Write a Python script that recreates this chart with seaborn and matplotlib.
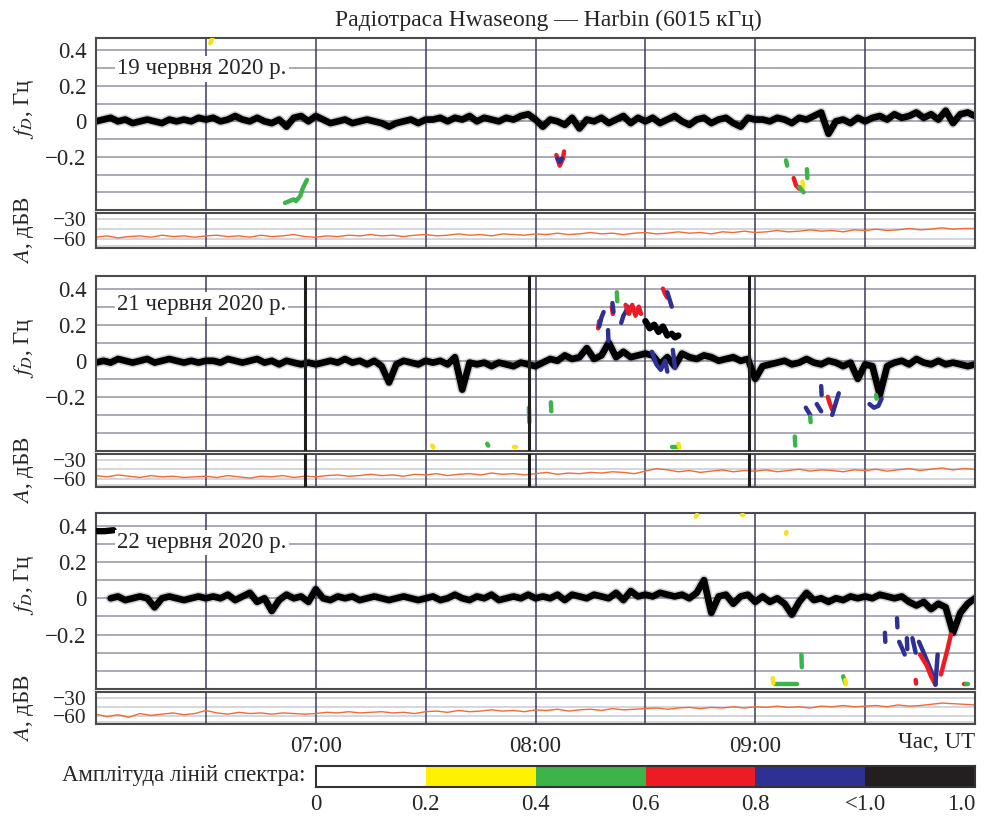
import numpy as np
import matplotlib
matplotlib.use("Agg")
import matplotlib.pyplot as plt
from matplotlib.colors import ListedColormap
import seaborn as sns

# ---------------- data ----------------
title_text = "Радіотраса Hwaseong — Harbin (6015 кГц)"
dates = ["19 червня 2020 р.", "21 червня 2020 р.", "22 червня 2020 р."]

# time axis (hours UT)
t_dop = 6 + np.arange(121) / 30.0   # 2-min step
t_amp = 6 + np.arange(81) / 20.0    # 3-min step

dop_19 = [0.00, 0.01, 0.02, 0.00, 0.01, -0.01, 0.00, 0.01, 0.00, -0.01, 0.01, 0.00, 0.01, 0.00, 0.02, 0.01,
          0.02, 0.00, 0.01, 0.03, 0.01, 0.00, 0.02, 0.00, -0.01, 0.01, -0.03, 0.02, 0.03, 0.00, 0.03,
          0.01, -0.01, 0.00, 0.01, -0.01, 0.00, 0.01, 0.00, -0.01, -0.03, -0.01, 0.00, 0.01, -0.01, 0.01,
          0.01, 0.02, 0.00, 0.02, 0.01, 0.03, 0.00, 0.02, 0.01, 0.00, 0.02, 0.01, 0.03, 0.04, 0.01,
          -0.03, 0.01, 0.00, -0.02, 0.02, -0.04, 0.01, 0.00, 0.02, -0.01, 0.01, 0.03, -0.01, 0.02, 0.00,
          0.02, -0.01, 0.01, 0.03, 0.00, -0.02, 0.01, 0.02, -0.01, 0.01, 0.02, -0.01, -0.03, 0.02, 0.01,
          0.01, 0.00, 0.02, 0.01, -0.01, 0.02, 0.01, 0.03, 0.05, -0.07, 0.00, 0.01, -0.01, 0.02, 0.00,
          0.02, 0.03, 0.01, 0.04, 0.02, 0.03, 0.05, 0.02, 0.04, 0.01, 0.06, -0.01, 0.04, 0.05, 0.03]

dop_21 = [-0.01, 0.00, -0.01, 0.01, 0.00, -0.01, 0.00, 0.01, -0.01, 0.00, 0.01, 0.00, -0.01, 0.00, -0.01, 0.00,
          0.00, -0.01, 0.01, 0.00, -0.01, 0.00, 0.01, -0.01, 0.00, -0.02, 0.00, -0.01, -0.02, -0.01, -0.02,
          -0.01, 0.00, -0.01, 0.01, -0.01, 0.00, -0.02, 0.00, -0.03, -0.12, -0.02, 0.00, -0.01, -0.02, 0.00,
          -0.01, 0.00, -0.02, 0.02, -0.16, -0.01, -0.02, -0.01, -0.03, -0.01, -0.02, -0.03, -0.01, -0.02, -0.03,
          -0.01, 0.01, 0.00, 0.03, 0.01, 0.02, 0.07, 0.01, 0.03, 0.10, 0.02, 0.05, 0.02, 0.03, 0.04,
          0.03, -0.02, 0.02, -0.03, 0.04, 0.02, 0.01, 0.03, 0.02, 0.00, 0.01, 0.02, 0.00, 0.01, -0.10,
          -0.03, -0.02, -0.01, 0.00, -0.02, -0.01, 0.01, -0.01, -0.02, 0.00, -0.01, -0.03, -0.01, -0.10, -0.02,
          -0.03, -0.19, -0.03, -0.01, 0.00, -0.02, 0.01, -0.01, -0.02, 0.00, -0.02, -0.01, -0.02, -0.03, -0.02]

dop_22 = [np.nan, np.nan, 0.00, 0.01, -0.01, 0.00, 0.01, 0.00, -0.05, 0.00, 0.01, 0.00, -0.01, 0.00, 0.01, 0.00,
          0.01, 0.00, 0.02, -0.01, 0.01, 0.03, -0.02, 0.00, -0.07, -0.01, 0.02, 0.00, 0.01, -0.02, 0.05,
          0.00, -0.01, 0.01, 0.00, 0.01, -0.01, 0.00, 0.01, 0.00, -0.01, 0.00, 0.01, 0.00, -0.01, 0.00,
          0.01, -0.01, 0.00, 0.02, 0.00, -0.01, 0.01, 0.00, 0.02, -0.01, 0.00, 0.01, 0.00, 0.02, 0.00,
          0.01, 0.00, 0.02, -0.01, 0.02, 0.01, 0.00, 0.02, 0.01, 0.00, 0.03, -0.01, 0.04, 0.01, 0.02,
          0.01, 0.03, 0.02, 0.01, 0.02, 0.00, 0.03, 0.10, -0.08, 0.01, 0.02, -0.03, 0.01, 0.02, -0.02,
          0.01, -0.02, 0.00, -0.03, -0.09, -0.02, 0.03, -0.01, 0.00, -0.02, 0.00, -0.01, 0.01, 0.00, 0.01,
          0.00, 0.02, 0.01, 0.00, 0.01, -0.02, -0.04, -0.02, -0.06, -0.03, -0.05, -0.19, -0.08, -0.03, 0.00]

amp_19 = [-57, -55, -58, -56, -55, -57, -54, -56, -55, -57,
          -55, -54, -56, -55, -57, -54, -56, -55, -53, -56,
          -57, -55, -56, -54, -55, -53, -55, -54, -56, -54,
          -53, -55, -54, -52, -54, -53, -55, -52, -53, -54,
          -52, -53, -51, -53, -52, -50, -52, -51, -53, -51,
          -50, -52, -51, -49, -51, -50, -52, -49, -50, -48,
          -50, -49, -47, -49, -48, -46, -48, -47, -49, -46,
          -47, -45, -47, -46, -44, -46, -45, -43, -45, -44, -44]

amp_21 = [-55, -57, -54, -56, -58, -55, -57, -56, -58, -57,
          -56, -58, -55, -57, -59, -56, -57, -55, -58, -56,
          -57, -55, -54, -56, -55, -53, -55, -54, -56, -53,
          -54, -52, -55, -53, -52, -54, -51, -53, -52, -54,
          -52, -50, -53, -51, -52, -50, -51, -49, -50, -52,
          -48, -44, -46, -49, -47, -50, -48, -46, -49, -47,
          -48, -46, -49, -47, -45, -48, -46, -47, -49, -46,
          -47, -45, -48, -46, -44, -47, -45, -43, -46, -44, -45]

amp_22 = [-57, -61, -58, -62, -56, -59, -57, -55, -58, -56,
          -51, -55, -57, -54, -56, -55, -57, -55, -56, -57,
          -56, -54, -55, -53, -55, -54, -53, -55, -54, -56,
          -53, -52, -54, -51, -53, -52, -50, -52, -51, -53,
          -50, -51, -49, -52, -50, -49, -51, -48, -50, -49,
          -48, -47, -49, -47, -46, -48, -46, -47, -45, -47,
          -45, -46, -44, -46, -45, -47, -44, -45, -43, -45,
          -44, -43, -45, -42, -44, -43, -41, -39, -40, -41, -42]

# weaker spectral components: (colour key, times, Doppler shifts)
frags_19 = [
    ("y", [6.52, 6.53], [0.44, 0.47]),
    ("g", [6.86, 6.88, 6.90, 6.91, 6.93, 6.94, 6.96], [-0.46, -0.45, -0.44, -0.45, -0.42, -0.38, -0.33]),
    ("r", [8.095, 8.11, 8.125, 8.13], [-0.19, -0.25, -0.21, -0.17]),
    ("b", [8.10, 8.11, 8.12], [-0.21, -0.23, -0.21]),
    ("g", [9.14, 9.145], [-0.22, -0.25]),
    ("r", [9.175, 9.185, 9.20], [-0.32, -0.36, -0.38]),
    ("y", [9.215, 9.218], [-0.34, -0.37]),
    ("g", [9.20, 9.22], [-0.37, -0.40]),
    ("g", [9.235, 9.237], [-0.27, -0.32]),
]

frags_21 = [
    ("r", [8.285, 8.29], [0.18, 0.22]),
    ("b", [8.29, 8.30, 8.31], [0.19, 0.24, 0.27]),
    ("b", [8.33, 8.332], [0.17, 0.11]),
    ("r", [8.347, 8.352], [0.30, 0.26]),
    ("b", [8.35, 8.355], [0.32, 0.27]),
    ("g", [8.37, 8.372], [0.38, 0.33]),
    ("b", [8.39, 8.40, 8.41, 8.42], [0.21, 0.25, 0.27, 0.30]),
    ("r", [8.41, 8.425, 8.44, 8.455, 8.47, 8.48], [0.31, 0.26, 0.31, 0.25, 0.30, 0.26]),
    ("r", [8.58, 8.59, 8.60], [0.40, 0.37, 0.35]),
    ("b", [8.60, 8.61, 8.62], [0.38, 0.34, 0.30]),
    ("k", [8.50, 8.52, 8.54, 8.56, 8.58, 8.60], [0.22, 0.18, 0.20, 0.16, 0.19, 0.14]),
    ("k", [8.62, 8.635, 8.65], [0.15, 0.13, 0.14]),
    ("b", [8.53, 8.55, 8.57, 8.59, 8.60], [0.05, -0.02, -0.05, 0.00, -0.06]),
    ("b", [8.625, 8.63, 8.635], [0.06, 0.01, -0.04]),
    ("g", [8.07, 8.072], [-0.23, -0.28]),
    ("g", [7.97, 7.972], [-0.26, -0.34]),
    ("g", [8.62, 8.65], [-0.48, -0.48]),
    ("y", [8.65, 8.655], [-0.46, -0.48]),
    ("g", [9.18, 9.182], [-0.42, -0.47]),
    ("y", [7.90, 7.91], [-0.48, -0.48]),
    ("g", [7.78, 7.785], [-0.46, -0.47]),
    ("y", [7.53, 7.535], [-0.47, -0.48]),
    ("b", [9.23, 9.25], [-0.26, -0.30]),
    ("g", [9.25, 9.252], [-0.31, -0.34]),
    ("b", [9.28, 9.30], [-0.24, -0.28]),
    ("b", [9.30, 9.302], [-0.14, -0.19]),
    ("r", [9.33, 9.34, 9.35], [-0.20, -0.24, -0.27]),
    ("b", [9.35, 9.365, 9.38], [-0.30, -0.24, -0.18]),
    ("b", [9.52, 9.54, 9.56, 9.575], [-0.24, -0.26, -0.25, -0.21]),
    ("g", [9.55, 9.552], [-0.19, -0.21]),
]

frags_22 = [
    ("k", [6.0, 6.04, 6.08], [0.37, 0.37, 0.375]),
    ("y", [8.73, 8.735], [0.45, 0.46]),
    ("y", [8.94, 8.945], [0.46, 0.46]),
    ("y", [9.14, 9.142], [0.355, 0.365]),
    ("g", [9.21, 9.212], [-0.31, -0.38]),
    ("g", [9.09, 9.14, 9.19], [-0.475, -0.475, -0.475]),
    ("y", [9.08, 9.082], [-0.44, -0.47]),
    ("g", [9.40, 9.41], [-0.43, -0.47]),
    ("y", [9.41, 9.412], [-0.45, -0.475]),
    ("b", [9.59, 9.592], [-0.19, -0.24]),
    ("b", [9.645, 9.647], [-0.11, -0.16]),
    ("b", [9.655, 9.67, 9.68], [-0.24, -0.28, -0.31]),
    ("b", [9.69, 9.692], [-0.22, -0.28]),
    ("b", [9.715, 9.73], [-0.22, -0.30]),
    ("b", [9.745, 9.77, 9.80, 9.82], [-0.24, -0.31, -0.40, -0.475]),
    ("r", [9.75, 9.78, 9.80, 9.82], [-0.31, -0.37, -0.43, -0.475]),
    ("b", [9.82, 9.83], [-0.475, -0.31]),
    ("r", [9.845, 9.86, 9.875, 9.89], [-0.42, -0.35, -0.28, -0.20]),
    ("r", [9.73, 9.732], [-0.45, -0.47]),
    ("r", [9.95, 9.96], [-0.475, -0.475]),
    ("g", [9.96, 9.97], [-0.475, -0.475]),
]

event_times_21 = [6.95, 7.97, 8.97]

dop_ticks = [0.4, 0.2, 0.0, -0.2]
dop_ticklabels = ["0.4", "0.2", "0", "\u22120.2"]
amp_ticks = [-30, -60]
amp_ticklabels = ["\u221230", "\u221260"]
hour_ticks = [7, 8, 9]
hour_labels = ["07:00", "08:00", "09:00"]

cb_colors = ["#ffffff", "#fff200", "#3cb44a", "#ed1c24", "#2e3192", "#231f20"]
cb_labels = ["0", "0.2", "0.4", "0.6", "0.8", "<1.0", "1.0"]
frag_colors = {"y": "#f7e21b", "g": "#3cb44a", "r": "#ed1c24", "b": "#2e3192", "k": "#000000"}

# ---------------- style ----------------
sns.set_theme(style="white")
plt.rcParams["font.family"] = ["Liberation Serif", "DejaVu Serif"]
plt.rcParams["mathtext.fontset"] = "stix"
plt.rcParams["axes.unicode_minus"] = True

W, H = 986, 817
fig = plt.figure(figsize=(W / 100, H / 100), dpi=100)
FS = 16.5
FS_AMP = 15.5
FRAME = "#4a4a4a"
HGRID = "#a2a2b4"
VGRID = "#3c3c5c"
AGRID = "#d2d2da"
AMPC = "#f26a35"


def px_axes(top, bottom, left=96, right=975):
    return fig.add_axes([left / W, 1 - bottom / H, (right - left) / W, (bottom - top) / H])


layout = [((38, 210), (213, 248)), ((276, 451), (454, 487)), ((513, 689), (692, 724))]
dops = [dop_19, dop_21, dop_22]
amps = [amp_19, amp_21, amp_22]
frags = [frags_19, frags_21, frags_22]
date_y = [0.82, 0.835, 0.83]

for k in range(3):
    (dt, db), (at, ab) = layout[k]
    axD = px_axes(dt, db)
    axA = px_axes(at, ab)

    # Doppler panel
    for yv in np.arange(-0.4, 0.41, 0.1):
        axD.axhline(yv, color=HGRID, lw=1.3, zorder=0.5)
    for xv in [6.5, 7.0, 7.5, 8.0, 8.5, 9.0, 9.5]:
        axD.axvline(xv, color=VGRID, lw=1.1, zorder=0.6)
        axA.axvline(xv, color=VGRID, lw=1.1, zorder=0.6)

    sns.lineplot(x=t_dop, y=dops[k], ax=axD, color="black", lw=7.0, alpha=0.18,
                 estimator=None, sort=False, solid_joinstyle="round", zorder=1.9)
    sns.lineplot(x=t_dop, y=dops[k], ax=axD, color="black", lw=4.8,
                 estimator=None, sort=False, solid_joinstyle="round", zorder=2)
    for ck, ft, ff in frags[k]:
        sns.lineplot(x=ft, y=ff, ax=axD, color=frag_colors[ck], lw=3.2 if ck != "k" else 4.6,
                     estimator=None, sort=False, solid_capstyle="round", zorder=3)

    axD.set_xlim(6, 10)
    axD.set_ylim(-0.5, 0.47)
    axD.set_xticks([])
    axD.set_yticks(dop_ticks)
    axD.set_yticklabels(dop_ticklabels)
    axD.tick_params(axis="y", length=0, pad=7, labelsize=FS)
    axD.set_xlabel("")
    axD.set_ylabel(r"$f_D$, Гц", fontsize=FS)
    axD.yaxis.set_label_coords(-0.068, 0.59)
    axD.text(0.024, date_y[k], dates[k], transform=axD.transAxes, fontsize=FS,
             ha="left", va="center", zorder=5,
             bbox=dict(facecolor="white", edgecolor="none", pad=1.5))

    # Amplitude panel
    for yv in [-30, -45, -60, -70]:
        axA.axhline(yv, color=AGRID, lw=1.3, zorder=0.5)
    sns.lineplot(x=t_amp, y=amps[k], ax=axA, color=AMPC, lw=1.0,
                 estimator=None, sort=False, zorder=2)
    axA.set_xlim(6, 10)
    axA.set_ylim(-73, -21)
    axA.set_yticks(amp_ticks)
    axA.set_yticklabels(amp_ticklabels)
    axA.tick_params(axis="y", length=0, pad=7, labelsize=FS_AMP)
    axA.set_ylabel(r"$A$, дБВ", fontsize=FS)
    axA.yaxis.set_label_coords(-0.068, 0.5)
    if k == 2:
        axA.set_xticks(hour_ticks)
        axA.set_xticklabels(hour_labels)
        axA.tick_params(axis="x", length=0, pad=9, labelsize=FS)
    else:
        axA.set_xticks([])
    axA.set_xlabel("")

    if k == 1:
        for et in event_times_21:
            axD.axvline(et, color="#1e1e1e", lw=2.2, zorder=4)
            axA.axvline(et, color="#1e1e1e", lw=2.2, zorder=4)

    for ax in (axD, axA):
        for s in ax.spines.values():
            s.set_visible(True)
            s.set_color(FRAME)
            s.set_linewidth(1.5)

fig.text(548 / W, 1 - 20 / H, title_text, ha="center", va="center", fontsize=FS + 0.5)
fig.text(975 / W, 1 - 743 / H, "Час, UT", ha="right", va="center", fontsize=FS)

# colour scale strip
cax = fig.add_axes([316 / W, 1 - 787 / H, 659 / W, 21 / H])
sns.heatmap(np.array([[0, 1, 2, 3, 4, 5]]), cmap=ListedColormap(cb_colors), vmin=-0.5, vmax=5.5,
            cbar=False, ax=cax, linewidths=0)
cax.set_xticks(range(7))
cax.set_xticklabels(cb_labels, rotation=0)
cax.set_yticks([])
cax.tick_params(axis="x", length=0, pad=5, labelsize=FS)
cax.get_xticklabels()[-1].set_ha("right")
for s in cax.spines.values():
    s.set_visible(True)
    s.set_color("#333333")
    s.set_linewidth(1.5)
fig.text(305 / W, 1 - 776 / H, "Амплітуда ліній спектра:", ha="right", va="center", fontsize=FS)

fig.savefig("out.png", dpi=100)
